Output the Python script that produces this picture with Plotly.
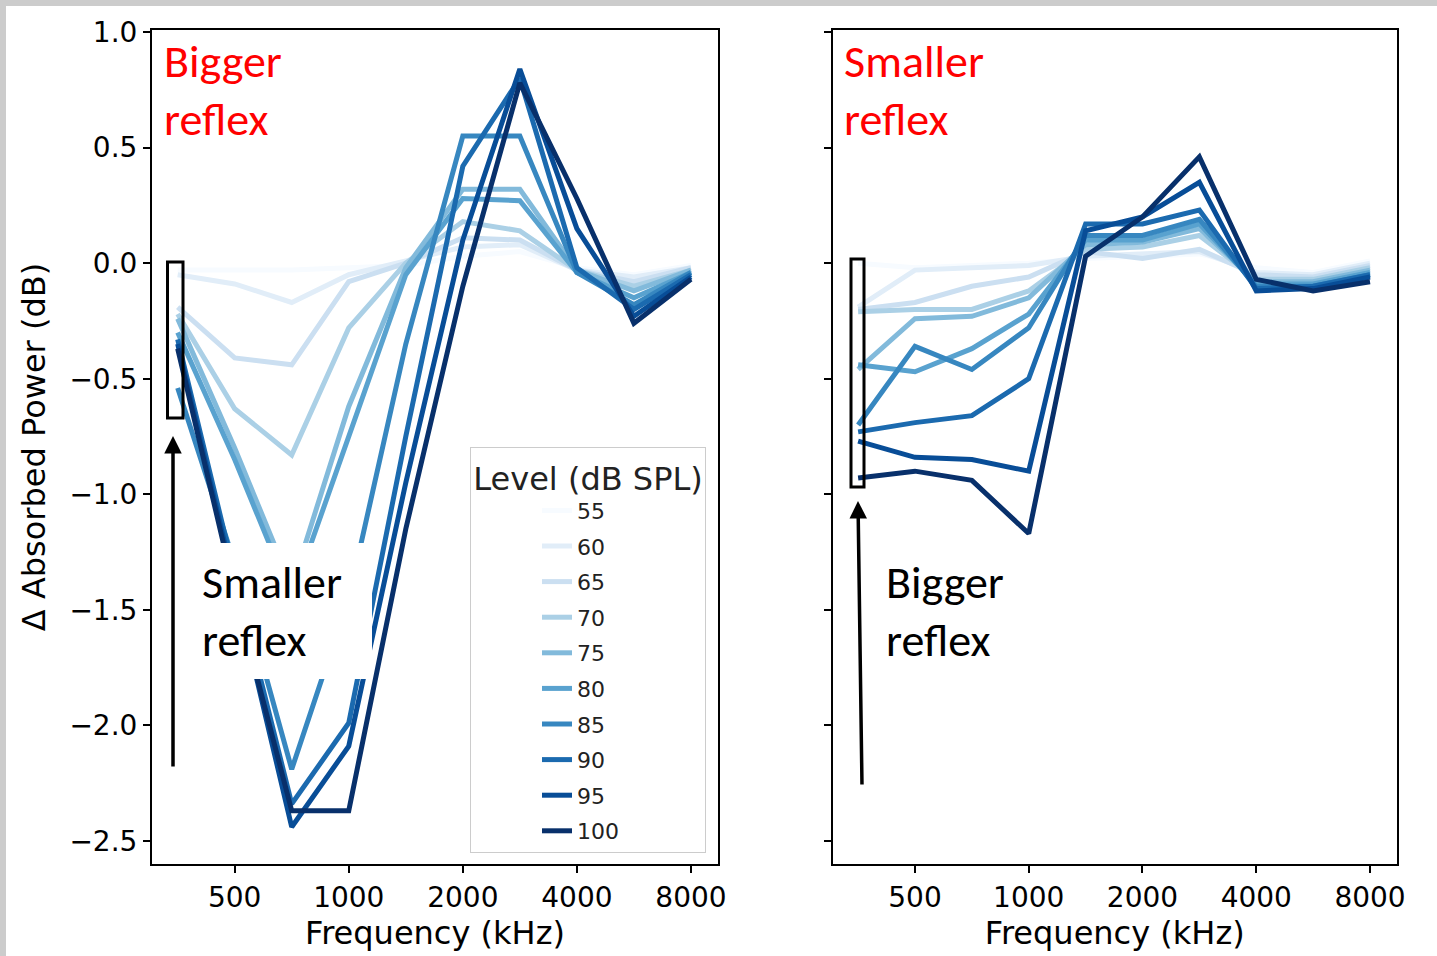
import math
import plotly.graph_objects as go

# ---------------- data ----------------
freqs = [353.6, 500, 707.1, 1000, 1414.2, 2000, 2828.4, 4000, 5656.9, 8000]
levels = [55, 60, 65, 70, 75, 80, 85, 90, 95, 100]

# left panel (Bigger reflex)
L55 = [-0.03, -0.03, -0.03, -0.02, -0.01, 0.03, 0.05, -0.02, -0.05, -0.01]
L60 = [-0.05, -0.09, -0.17, -0.05, 0.01, 0.07, 0.08, -0.03, -0.06, -0.02]
L65 = [-0.19, -0.41, -0.44, -0.08, 0.00, 0.11, 0.10, -0.03, -0.08, -0.02]
L70 = [-0.22, -0.63, -0.83, -0.28, 0.00, 0.18, 0.14, -0.03, -0.10, -0.03]
L75 = [-0.24, -0.80, -1.40, -0.62, -0.02, 0.32, 0.32, -0.03, -0.12, -0.03]
L80 = [-0.30, -0.85, -1.45, -0.75, -0.05, 0.28, 0.27, -0.04, -0.15, -0.04]
L85 = [-0.54, -1.30, -2.19, -1.45, -0.35, 0.55, 0.55, -0.04, -0.18, -0.04]
L90 = [-0.33, -1.35, -2.34, -1.99, -0.75, 0.42, 0.80, -0.02, -0.20, -0.05]
L95 = [-0.35, -1.40, -2.44, -2.09, -0.95, 0.10, 0.84, 0.15, -0.23, -0.06]
L100 = [-0.37, -1.42, -2.37, -2.37, -1.15, -0.10, 0.78, 0.28, -0.26, -0.07]
left_series = [L55, L60, L65, L70, L75, L80, L85, L90, L95, L100]

# right panel (Smaller reflex)
R55 = [0.00, -0.02, -0.01, 0.00, 0.02, 0.03, 0.04, -0.02, -0.04, 0.01]
R60 = [-0.19, -0.03, -0.02, -0.01, 0.03, 0.04, 0.05, -0.04, -0.05, 0.00]
R65 = [-0.20, -0.17, -0.10, -0.06, 0.05, 0.02, 0.06, -0.05, -0.06, -0.01]
R70 = [-0.21, -0.20, -0.20, -0.12, 0.06, 0.07, 0.12, -0.07, -0.07, -0.02]
R75 = [-0.46, -0.24, -0.23, -0.15, 0.08, 0.09, 0.15, -0.08, -0.08, -0.03]
R80 = [-0.44, -0.47, -0.37, -0.22, 0.10, 0.10, 0.17, -0.09, -0.09, -0.04]
R85 = [-0.70, -0.36, -0.46, -0.28, 0.12, 0.12, 0.19, -0.10, -0.10, -0.05]
R90 = [-0.73, -0.69, -0.66, -0.50, 0.17, 0.17, 0.23, -0.11, -0.10, -0.05]
R95 = [-0.77, -0.84, -0.85, -0.90, 0.14, 0.20, 0.35, -0.12, -0.11, -0.06]
R100 = [-0.93, -0.90, -0.94, -1.17, 0.03, 0.20, 0.46, -0.07, -0.12, -0.08]
right_series = [R55, R60, R65, R70, R75, R80, R85, R90, R95, R100]

x_tickvals = [500, 1000, 2000, 4000, 8000]
x_ticktext = ["500", "1000", "2000", "4000", "8000"]
y_tickvals = [-2.5, -2.0, -1.5, -1.0, -0.5, 0.0, 0.5, 1.0]
y_ticktext = ["\u22122.5", "\u22122.0", "\u22121.5", "\u22121.0", "\u22120.5", "0.0", "0.5", "1.0"]

# ---------------- style ----------------
colors = ["#f7fbff", "#e1edf8", "#cbdff1", "#abd0e6", "#82badb",
          "#59a2cf", "#3787c0", "#1b6aaf", "#084d97", "#08306b"]
W, H = 1437, 956
FONT = "DejaVu Sans"
NOTE_FONT = "Carlito, Lato, sans-serif"
LW = 5


def px(x):
    return x / W


def py(y):
    return 1 - y / H


fig = go.Figure()
for lev, ys, c in zip(levels, left_series, colors):
    fig.add_trace(go.Scatter(x=freqs, y=ys, mode="lines", name=str(lev),
                             legendgroup=str(lev),
                             line=dict(color=c, width=LW),
                             xaxis="x", yaxis="y"))
for lev, ys, c in zip(levels, right_series, colors):
    fig.add_trace(go.Scatter(x=freqs, y=ys, mode="lines", name=str(lev),
                             legendgroup=str(lev), showlegend=False,
                             line=dict(color=c, width=LW),
                             xaxis="x2", yaxis="y2"))

xrange = [math.log10(302.5), math.log10(9430)]
yrange = [-2.600, 1.009]

common_x = dict(type="log", range=xrange, tickvals=x_tickvals, ticktext=x_ticktext,
                ticks="outside", ticklen=7, tickwidth=1.5, tickcolor="black",
                showline=True, linecolor="black", linewidth=2, mirror=True,
                showgrid=False, zeroline=False, automargin=False,
                tickfont=dict(family=FONT, size=28, color="black"),
                title=dict(text="Frequency (kHz)", font=dict(family=FONT, size=32, color="black"),
                           standoff=8))
common_y = dict(range=yrange, tickvals=y_tickvals, ticktext=y_ticktext,
                ticks="outside", ticklen=7, tickwidth=1.5, tickcolor="black",
                showline=True, linecolor="black", linewidth=2, mirror=True,
                showgrid=False, zeroline=False, automargin=False,
                tickfont=dict(family=FONT, size=28, color="black"))

fig.update_layout(
    width=W, height=H, autosize=False,
    margin=dict(l=0, r=0, t=0, b=0, pad=0, autoexpand=False),
    paper_bgcolor="white", plot_bgcolor="white",
    xaxis=dict(common_x, domain=[px(152), px(718)], anchor="y"),
    yaxis=dict(common_y, domain=[py(864), py(30)], anchor="x",
               title=dict(text="\u0394 Absorbed Power (dB)",
                          font=dict(family=FONT, size=32, color="black"), standoff=14)),
    xaxis2=dict(common_x, domain=[px(832.5), px(1397)], anchor="y2"),
    yaxis2=dict(common_y, domain=[py(864), py(30)], anchor="x2", showticklabels=False),
    legend=dict(x=px(706), xanchor="right", y=py(853), yanchor="bottom",
                bgcolor="rgba(255,255,255,0.85)", bordercolor="#cccccc", borderwidth=1,
                tracegroupgap=4, indentation=66,
                font=dict(family=FONT, size=22, color="#222222"),
                title=dict(text="Level (dB SPL)", side="top center",
                           font=dict(family=FONT, size=32, color="#222222"))),
    showlegend=True,
)

shapes = []
# grey screenshot border (top and left)
shapes.append(dict(type="rect", xref="paper", yref="paper", x0=0, x1=px(6), y0=0, y1=1,
                   fillcolor="#cccccc", line=dict(width=0), layer="above"))
shapes.append(dict(type="rect", xref="paper", yref="paper", x0=0, x1=1, y0=py(6), y1=1,
                   fillcolor="#cccccc", line=dict(width=0), layer="above"))
# rectangles around first points
shapes.append(dict(type="rect", xref="paper", yref="paper", x0=px(167.5), x1=px(183),
                   y0=py(418), y1=py(262), line=dict(color="black", width=3), layer="above"))
shapes.append(dict(type="rect", xref="paper", yref="paper", x0=px(851), x1=px(864),
                   y0=py(487), y1=py(259), line=dict(color="black", width=3), layer="above"))
# white text box over left panel
shapes.append(dict(type="rect", xref="paper", yref="paper", x0=px(190), x1=px(372),
                   y0=py(679), y1=py(543), fillcolor="white", line=dict(width=0), layer="above"))
fig.update_layout(shapes=shapes)

ann = []


def note(text, x, y, color):
    ann.append(dict(text=text, xref="paper", yref="paper", x=px(x), y=py(y),
                    xanchor="left", yanchor="middle", showarrow=False,
                    font=dict(family=NOTE_FONT, size=46, color=color)))


note("Bigger", 162, 61, "red")
note("reflex", 162, 119, "red")
note("Smaller", 842, 61, "red")
note("reflex", 842, 119, "red")
note("Smaller", 200, 582, "black")
note("reflex", 200, 640, "black")
note("Bigger", 884, 582, "black")
note("reflex", 884, 640, "black")

# arrows
ann.append(dict(text="", xref="paper", yref="paper", x=px(173), y=py(436),
                ax=0, ay=332, axref="pixel", ayref="pixel", showarrow=True,
                arrowhead=2, arrowsize=1, arrowwidth=3.5, arrowcolor="black", standoff=0))
ann.append(dict(text="", xref="paper", yref="paper", x=px(858), y=py(501),
                ax=4, ay=285, axref="pixel", ayref="pixel", showarrow=True,
                arrowhead=2, arrowsize=1, arrowwidth=3.5, arrowcolor="black", standoff=0))
fig.update_layout(annotations=ann)

post = ("document.body.style.margin='0';document.body.style.overflow='hidden';"
        "var d=document.getElementsByClassName('plotly-graph-div')[0];"
        "d.style.position='fixed';d.style.top='0px';d.style.left='0px';")
fig.write_html("out.html", config={"displayModeBar": False}, post_script=post)
